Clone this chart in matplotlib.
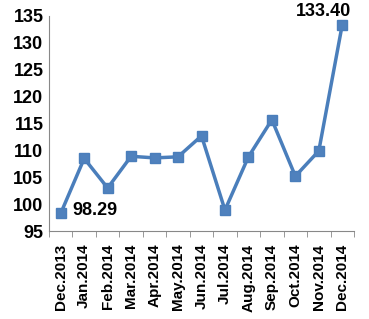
import matplotlib.pyplot as plt
import numpy as np

months = ['Dec.2013', 'Jan.2014', 'Feb.2014', 'Mar.2014', 'Apr.2014', 'May.2014',
          'Jun.2014', 'Jul.2014', 'Aug.2014', 'Sep.2014', 'Oct.2014', 'Nov.2014', 'Dec.2014']
values = [98.29, 108.5, 103.0, 108.9, 108.6, 108.8, 112.7, 98.9, 108.8, 115.7, 105.2, 109.9, 133.40]

plt.rcParams['font.family'] = ['Liberation Sans', 'DejaVu Sans']
plt.rcParams['font.weight'] = 'bold'

fig = plt.figure(figsize=(3.69, 3.19), dpi=100)
ax = fig.add_axes([49 / 369, 1 - 231 / 319, 305 / 369, 215 / 319])

x = np.arange(len(months))
ax.plot(x, values, color='#4A7EBB', lw=2.5, marker='s', ms=7,
        mfc='#4F81BD', mec='#4A7EBB', clip_on=False, zorder=3)

ax.annotate('98.29', (x[0], values[0]), xytext=(12, -2), textcoords='offset pixels',
            fontsize=13, fontweight='bold', va='baseline', ha='left')
ax.annotate('133.40', (x[-1], values[-1]), xytext=(-19, 9), textcoords='offset pixels',
            fontsize=13, fontweight='bold', va='baseline', ha='center')

ax.set_xlim(-0.5, len(months) - 0.5)
ax.set_ylim(95, 135)
ax.set_yticks(range(95, 136, 5))
ax.tick_params(axis='y', labelsize=13, length=0, pad=4)

ax.set_xticks(x)
ax.set_xticklabels(months, rotation=90, fontsize=11, fontweight='bold')
ax.set_xticks(np.arange(-0.5, len(months)), minor=True)
ax.tick_params(axis='x', which='major', length=0, pad=9)
ax.tick_params(axis='x', which='minor', length=4, color='#888888', direction='out')

for side in ['top', 'right']:
    ax.spines[side].set_visible(False)
for side in ['left', 'bottom']:
    ax.spines[side].set_color('#888888')
    ax.spines[side].set_linewidth(0.8)

fig.savefig('out.png', dpi=100)
